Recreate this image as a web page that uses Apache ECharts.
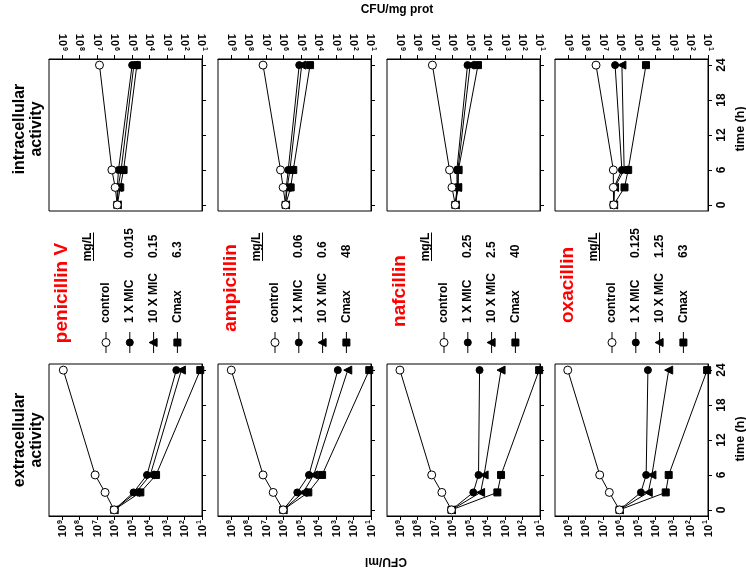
<!DOCTYPE html>
<html>
<head>
<meta charset="utf-8">
<script src="https://cdn.jsdelivr.net/npm/echarts@6.0.0/dist/echarts.min.js"></script>
<style>
html, body { margin: 0; padding: 0; background: #fff; }
#main { width: 746px; height: 573px; }
</style>
</head>
<body>
<div id="main"></div>
<script>
// sampling times (h)
var hours = [0, 3, 6, 24];
var drugNames = ['penicillin V', 'ampicillin', 'nafcillin', 'oxacillin'];
var groupNames = ['control', '1 X MIC', '10 X MIC', 'Cmax'];
// concentrations (mg/L)
var mic1Dose = ['0.015', '0.06', '0.25', '0.125'];
var mic10Dose = ['0.15', '0.6', '2.5', '1.25'];
var cmaxDose = ['6.3', '48', '40', '63'];
// axis ticks: log10 CFU and hours
var cfuTicks = [1, 2, 3, 4, 5, 6, 7, 8, 9];
var hourTicks = [0, 6, 12, 18, 24];

// intracellular, log10 CFU/mg prot  (control, 1 X MIC, 10 X MIC, Cmax)
var intraPenV = [[5.85, 5.97, 6.16, 6.87], [5.85, 5.85, 5.78, 5.0], [5.85, 5.8, 5.63, 4.9], [5.85, 5.68, 5.49, 4.73]];
var intraAmp = [[5.89, 6.03, 6.18, 7.18], [5.89, 5.85, 5.74, 5.11], [5.89, 5.8, 5.64, 4.97], [5.89, 5.6, 5.45, 4.49]];
var intraNaf = [[5.85, 6.04, 6.18, 7.16], [5.85, 5.75, 5.76, 5.15], [5.85, 5.72, 5.7, 5.0], [5.85, 5.68, 5.67, 4.55]];
var intraOxa = [[6.4, 6.42, 6.42, 7.41], [6.4, 6.38, 5.93, 6.32], [6.4, 6.35, 5.8, 5.93], [6.4, 5.78, 5.57, 4.55]];

// extracellular, log10 CFU/ml
var extraPenV = [[6.03, 6.55, 7.12, 8.94], [6.03, 4.92, 4.15, 2.47], [6.03, 4.78, 3.96, 2.18], [6.03, 4.53, 3.63, 1.1]];
var extraAmp = [[6.03, 6.6, 7.18, 9.0], [6.03, 5.22, 4.55, 2.9], [6.03, 4.88, 4.28, 2.33], [6.03, 4.59, 3.8, 1.1]];
var extraNaf = [[6.07, 6.62, 7.2, 9.02], [6.07, 4.82, 4.52, 4.46], [6.07, 4.4, 4.2, 3.23], [6.07, 3.44, 3.23, 1.05]];
var extraOxa = [[6.07, 6.65, 7.2, 9.03], [6.07, 4.84, 4.54, 4.44], [6.07, 4.42, 4.21, 3.25], [6.07, 3.42, 3.25, 1.05]];

var intraData = [intraPenV, intraAmp, intraNaf, intraOxa];
var extraData = [extraPenV, extraAmp, extraNaf, extraOxa];

var FONT = 'Liberation Sans, Arial, sans-serif';
var chart = echarts.init(document.getElementById('main'));

// layout
var colLeft = [49, 218, 387, 555];
var rowTop = [59, 364];
var boxW = 153, boxH = 152;
var nameMidY = [293, 288, 291, 285];

var markers = [
	{symbol: 'circle', size: 8, fill: '#fff', rot: 0},
	{symbol: 'circle', size: 7, fill: '#000', rot: 0},
	{symbol: 'triangle', size: 8, fill: '#000', rot: 90},
	{symbol: 'rect', size: 7, fill: '#000', rot: 0}
];

var grids = [], xAxes = [], yAxes = [], series = [];

for (var r = 0; r < 2; r++) {
	for (var c = 0; c < 4; c++) {
		var g = r * 4 + c;
		var isTop = (r === 0);
		grids.push({
			left: colLeft[c], top: rowTop[r], width: boxW, height: boxH,
			show: true, borderColor: '#000', borderWidth: 1, backgroundColor: 'transparent'
		});
		xAxes.push({
			gridIndex: g, type: 'value', inverse: true, min: 1, max: 9.76,
			position: isTop ? 'top' : 'bottom',
			axisLine: {show: true, onZero: false, lineStyle: {color: '#000', width: 1}},
			axisTick: {show: true, customValues: cfuTicks, length: 4, lineStyle: {color: '#000'}},
			splitLine: {show: false},
			axisLabel: {
				customValues: cfuTicks, rotate: 90, margin: isTop ? 8 : 4,
				formatter: function (v) { return '{b|10}{s|' + v + '}'; },
				rich: {
					b: {fontSize: 11, fontWeight: 'bold', fontFamily: FONT, color: '#000', verticalAlign: 'bottom'},
					s: {fontSize: 7, fontWeight: 'bold', fontFamily: FONT, color: '#000', verticalAlign: 'bottom', padding: [0, 0, 5, 1]}
				}
			}
		});
		yAxes.push({
			gridIndex: g, type: 'value', min: -1.05, max: 25.05, position: 'right',
			axisLine: {show: true, onZero: false, lineStyle: {color: '#000', width: 1}},
			axisTick: {show: true, customValues: hourTicks, length: 4, lineStyle: {color: '#000'}},
			splitLine: {show: false},
			axisLabel: {
				show: c === 3, customValues: hourTicks, rotate: 90, margin: 8,
				fontSize: 12, fontWeight: 'bold', fontFamily: FONT, color: '#000'
			}
		});
		var set = isTop ? intraData[c] : extraData[c];
		for (var k = 3; k >= 0; k--) {
			var m = markers[k];
			series.push({
				name: groupNames[k], type: 'line', xAxisIndex: g, yAxisIndex: g,
				data: hours.map(function (h, i) { return [set[k][i], h]; }),
				symbol: m.symbol, symbolSize: m.size, symbolRotate: m.rot,
				showSymbol: true, clip: false, animation: false,
				lineStyle: {color: '#000', width: 1},
				itemStyle: {color: m.fill, borderColor: '#000', borderWidth: 1, opacity: 1}
			});
		}
	}
}

// rotated legend blocks between the two rows
var graphics = [];
for (var c = 0; c < 4; c++) {
	var kids = [];
	kids.push({type: 'text', x: 360 - nameMidY[c], y: 13, style: {
		text: drugNames[c], font: 'bold 19px ' + FONT, fill: '#ff0000', align: 'center', verticalAlign: 'middle'}});
	kids.push({type: 'text', x: 113, y: 38.5, style: {
		text: 'mg/L', font: 'bold 12px ' + FONT, fill: '#000', align: 'center', verticalAlign: 'middle'}});
	kids.push({type: 'line', shape: {x1: 99, y1: 44.5, x2: 127.5, y2: 44.5}, style: {stroke: '#000', lineWidth: 1}});
	var doses = ['', mic1Dose[c], mic10Dose[c], cmaxDose[c]];
	for (var k = 0; k < 4; k++) {
		var ly = 57 + 23.8 * k;
		kids.push({type: 'line', shape: {x1: 7, y1: ly, x2: 28, y2: ly}, style: {stroke: '#000', lineWidth: 1}});
		if (k === 0) kids.push({type: 'circle', shape: {cx: 17.5, cy: ly, r: 4}, style: {fill: '#fff', stroke: '#000', lineWidth: 1}});
		if (k === 1) kids.push({type: 'circle', shape: {cx: 17.5, cy: ly, r: 3.5}, style: {fill: '#000', stroke: '#000', lineWidth: 1}});
		if (k === 2) kids.push({type: 'polygon', shape: {points: [[17.5, ly - 4.5], [21.5, ly + 3.5], [13.5, ly + 3.5]]}, style: {fill: '#000', stroke: '#000', lineWidth: 1}});
		if (k === 3) kids.push({type: 'rect', shape: {x: 14, y: ly - 3.5, width: 7, height: 7}, style: {fill: '#000', stroke: '#000', lineWidth: 1}});
		kids.push({type: 'text', x: 37, y: ly, style: {
			text: groupNames[k], font: 'bold 12px ' + FONT, fill: '#000', align: 'left', verticalAlign: 'middle'}});
		if (doses[k]) kids.push({type: 'text', x: 102, y: ly, style: {
			text: doses[k], font: 'bold 12px ' + FONT, fill: '#000', align: 'left', verticalAlign: 'middle'}});
	}
	graphics.push({type: 'group', x: colLeft[c], y: 360, rotation: Math.PI / 2, children: kids});
}

// section titles and axis names
graphics.push({type: 'text', x: 28, y: 129, rotation: Math.PI / 2, style: {
	text: 'intracellular\nactivity', font: 'bold 16px ' + FONT, lineHeight: 17, fill: '#000', align: 'center', verticalAlign: 'middle'}});
graphics.push({type: 'text', x: 28, y: 440, rotation: Math.PI / 2, style: {
	text: 'extracellular\nactivity', font: 'bold 16px ' + FONT, lineHeight: 17, fill: '#000', align: 'center', verticalAlign: 'middle'}});
graphics.push({type: 'text', x: 397, y: 10, style: {
	text: 'CFU/mg prot', font: 'bold 12px ' + FONT, fill: '#000', align: 'center', verticalAlign: 'middle'}});
graphics.push({type: 'text', x: 386, y: 561, rotation: Math.PI, style: {
	text: 'CFU/ml', font: 'bold 12px ' + FONT, fill: '#000', align: 'center', verticalAlign: 'middle'}});
graphics.push({type: 'text', x: 741, y: 129, rotation: Math.PI / 2, style: {
	text: 'time (h)', font: 'bold 12.5px ' + FONT, fill: '#000', align: 'center', verticalAlign: 'middle'}});
graphics.push({type: 'text', x: 741, y: 439, rotation: Math.PI / 2, style: {
	text: 'time (h)', font: 'bold 12.5px ' + FONT, fill: '#000', align: 'center', verticalAlign: 'middle'}});

chart.setOption({
	animation: false,
	backgroundColor: '#fff',
	grid: grids,
	xAxis: xAxes,
	yAxis: yAxes,
	series: series,
	graphic: graphics
});
</script>
</body>
</html>
